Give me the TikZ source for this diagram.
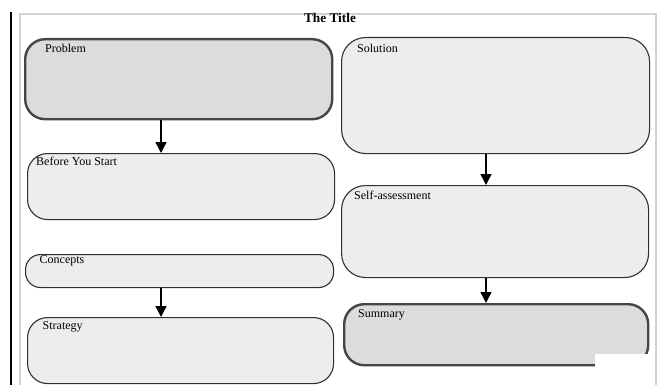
\documentclass[tikz,border=0pt]{standalone}
\usepackage{fontspec}
\setmainfont{Liberation Serif}
\usetikzlibrary{arrows.meta}
\definecolor{boxdark}{HTML}{DCDCDC}
\definecolor{boxlight}{HTML}{EDEDED}
\definecolor{edgedark}{HTML}{454545}
\definecolor{edgethin}{HTML}{303030}
\definecolor{framegray}{HTML}{D2D2D2}
\begin{document}
\begin{tikzpicture}[x=1pt,y=-1pt,
  lightbox/.style={draw=edgethin, line width=1.1pt, fill=boxlight, rounded corners=20pt, anchor=north west, inner sep=0pt, rectangle},
  darkbox/.style={draw=edgedark, line width=2.4pt, fill=boxdark, rounded corners=20pt, anchor=north west, inner sep=0pt, rectangle},
  lbl/.style={anchor=base west, inner sep=0pt, font=\fontsize{12}{14}\selectfont, text=black},
  arr/.style={-{Triangle[width=11pt,length=11pt]}, line width=1.4pt, black}
]
\useasboundingbox (0,0) rectangle (660,385);
\fill[white] (0,0) rectangle (660,385);
% frame
\draw[framegray, line width=2pt] (20,385) -- (20,14) -- (656,14) -- (656,385);
\draw[black, line width=2.6pt] (11,12) -- (11,385);
\node[anchor=base, inner sep=0pt, font=\fontsize{13.3}{15}\selectfont\bfseries] (title) at (330,23) {The Title};
% boxes
\node[darkbox, minimum width=307pt, minimum height=80pt] (problem) at (24,38) {};
\node[lightbox, minimum width=308pt, minimum height=116pt, rounded corners=24pt] (solution) at (341,37) {};
\node[lightbox, minimum width=307pt, minimum height=66pt] (before) at (27,153) {};
\node[lightbox, minimum width=308pt, minimum height=33pt, rounded corners=15pt] (concepts) at (25,254) {};
\node[lightbox, minimum width=306pt, minimum height=66pt] (strategy) at (27,317) {};
\node[lightbox, minimum width=307pt, minimum height=92pt, rounded corners=24pt] (selfassess) at (341,185) {};
\node[darkbox, minimum width=304pt, minimum height=61pt] (summary) at (343,303) {};
\fill[white] (595,354) rectangle (649,368);
% labels
\node[lbl] (problemlbl) at (45,53) {Problem};
\node[lbl] (solutionlbl) at (357,53) {Solution};
\node[lbl] (beforelbl) at (36,165.5) {Before You Start};
\node[lbl] (conceptslbl) at (39.5,263.5) {Concepts};
\node[lbl] (strategylbl) at (42.5,329) {Strategy};
\node[lbl] (selfassesslbl) at (354,199) {Self-assessment};
\node[lbl] (summarylbl) at (358,317) {Summary};
% arrows
\coordinate (colL) at (161,0);
\coordinate (colR) at (486,0);
\draw[arr] (colL |- problem.south) -- (colL |- before.north);
\draw[arr] (colL |- concepts.south) -- (colL |- strategy.north);
\draw[arr] (colR |- solution.south) -- (colR |- selfassess.north);
\draw[arr] (colR |- selfassess.south) -- (colR |- summary.north);
\end{tikzpicture}
\end{document}
